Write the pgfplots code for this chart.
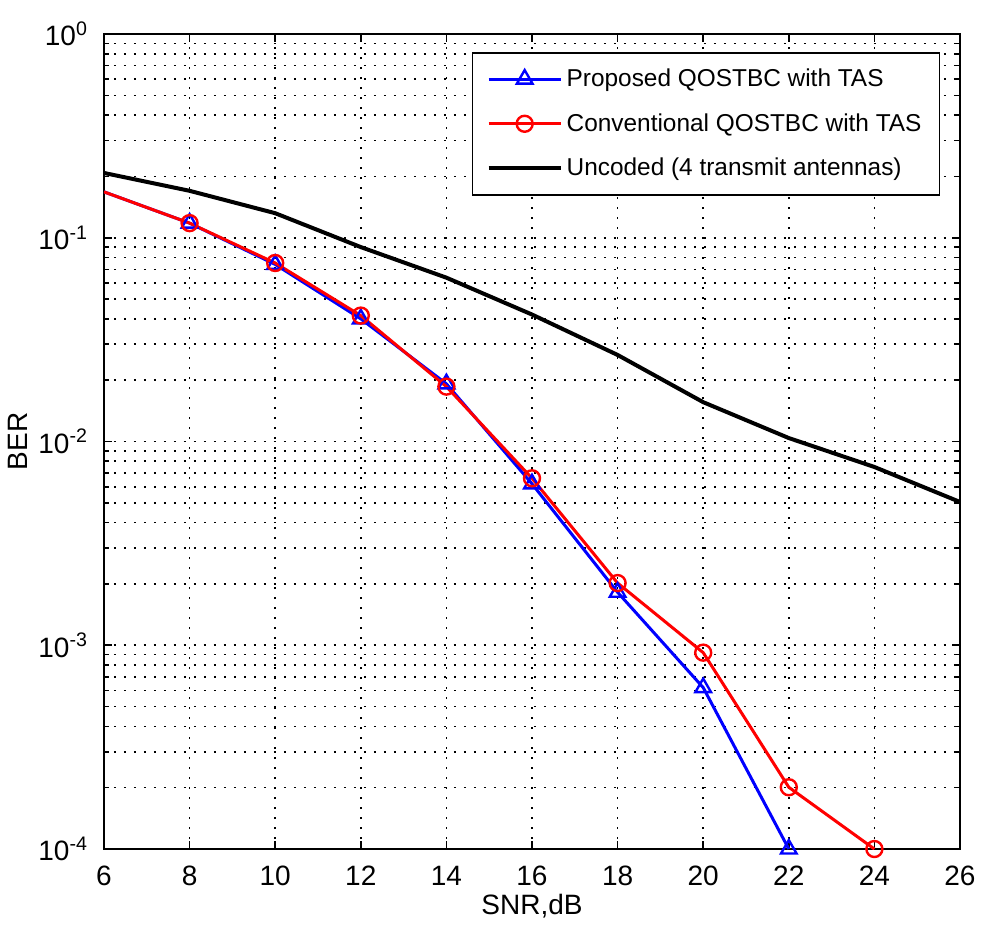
\documentclass[border=0pt]{standalone}
\usepackage{fontspec}
\setmainfont{Liberation Sans}
\usepackage{pgfplots}
\pgfplotsset{compat=1.18}
\begin{document}
\begin{tikzpicture}
\begin{semilogyaxis}[
  name=ax,
  scale only axis,
  width=428pt, height=407.5pt,
  xmin=6, xmax=26, ymin=1e-4, ymax=1,
  xtick={6,8,...,26},
  ytick={1e-4,1e-3,1e-2,1e-1,1},
  yticklabels={10\textsuperscript{-4},10\textsuperscript{-3},10\textsuperscript{-2},10\textsuperscript{-1},10\textsuperscript{0}},
  /pgf/number format/assume math mode=true,
  ticklabel style={font=\fontsize{14}{16}\selectfont},
  xticklabel style={yshift=-5pt},
  yticklabel style={xshift=-4.5pt},
  grid=both,
  major grid style={black, line width=0.8pt, dash pattern=on 0.8pt off 4.2pt},
  minor grid style={black, line width=0.8pt, dash pattern=on 0.8pt off 4.2pt},
  tick align=inside,
  major tick length=4pt, minor tick length=2.5pt,
  axis line style={black, line width=0.8pt},
  every tick/.style={black, line width=0.8pt},
  xlabel={SNR,dB}, ylabel={BER},
  label style={font=\fontsize{14}{16}\selectfont},
  xlabel style={yshift=2.5pt},
  ylabel style={yshift=-1.5pt},
  legend cell align=left,
  legend style={at={(axis description cs:0.977,0.978)}, anchor=north east,
    font=\fontsize{12.2}{14}\selectfont, draw=black, line width=0.8pt,
    row sep=8pt, inner xsep=7pt, inner ysep=6pt},
  legend image code/.code={\draw[mark indices={2}] plot coordinates {(0pt,0pt)(18pt,0pt)(36pt,0pt)};},
]
\addplot[blue, line width=1.5pt, mark=triangle, mark size=4.5pt, mark options={solid, line width=1.2pt}, mark indices={2,3,4,5,6,7,8,9}]
  coordinates {(6,0.168)(8,0.118)(10,0.074)(12,0.040)(14,0.0192)(16,0.0062)(18,0.00182)(20,0.00062)(22,0.0001)};
\addlegendentry{Proposed QOSTBC with TAS}
\addplot[red, line width=1.5pt, mark=o, mark size=4pt, mark options={solid, line width=1.2pt}, mark indices={2,3,4,5,6,7,8,9,10}]
  coordinates {(6,0.168)(8,0.118)(10,0.0752)(12,0.0415)(14,0.0186)(16,0.0066)(18,0.00202)(20,0.00092)(22,0.000201)(24,0.0001)};
\addlegendentry{Conventional QOSTBC with TAS}
\addplot[black, line width=2pt]
  coordinates {(6,0.208)(8,0.170)(10,0.132)(12,0.090)(14,0.0637)(16,0.0420)(18,0.0266)(20,0.0156)(22,0.0104)(24,0.0075)(26,0.00505)};
\addlegendentry{Uncoded (4 transmit antennas)}
\end{semilogyaxis}
\path ([shift={(-52pt,-43pt)}]ax.south west) rectangle ([shift={(13.5pt,17pt)}]ax.north east);
\end{tikzpicture}
\end{document}
